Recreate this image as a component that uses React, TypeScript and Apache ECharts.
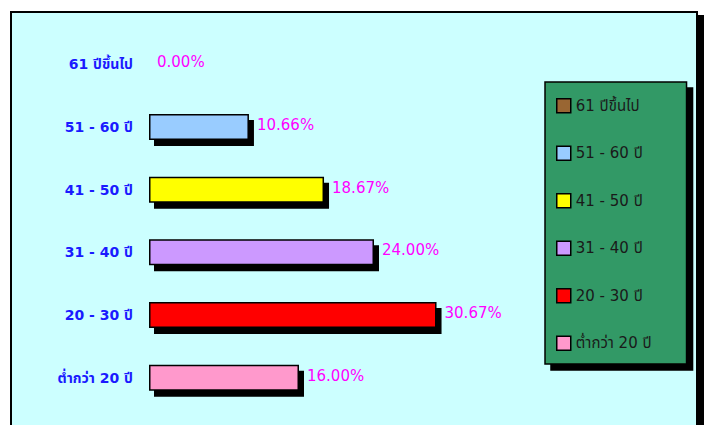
import React, { useEffect, useRef } from "react";
import * as echarts from "echarts";

const categories = ["ต่ำกว่า 20 ปี", "20 - 30 ปี", "31 - 40 ปี", "41 - 50 ปี", "51 - 60 ปี", "61 ปีขึ้นไป"];
const values = [16.0, 30.67, 24.0, 18.67, 10.66, 0.0];
const colors = ["#FF99CC", "#FF0000", "#CC99FF", "#FFFF00", "#99CCFF", "#996633"];
const legendOrder = ["61 ปีขึ้นไป", "51 - 60 ปี", "41 - 50 ปี", "31 - 40 ปี", "20 - 30 ปี", "ต่ำกว่า 20 ปี"];

const FONT = '"DejaVu Sans", "Noto Sans Thai", sans-serif';

export default function App() {
  const ref = useRef<HTMLDivElement>(null);
  useEffect(() => {
    document.body.style.margin = "0";
    if (!ref.current) return;
    const chart = echarts.init(ref.current, undefined, { renderer: "svg" });
    const series = categories.map((name, i) => ({
      name,
      type: "bar",
      stack: "all",
      barWidth: 26,
      data: categories.map((_, j) => (j === i ? values[i] : "-")),
      itemStyle: {
        color: colors[i],
        borderColor: "#000",
        borderWidth: values[i] === 0 ? 0 : 1.5,
        shadowColor: values[i] === 0 ? "transparent" : "#000",
        shadowBlur: 0,
        shadowOffsetX: 5,
        shadowOffsetY: 6,
      },
      label: {
        show: true,
        position: "right",
        distance: 8,
        offset: [0, -2],
        color: "#FF00FF",
        fontSize: 15,
        fontFamily: FONT,
        formatter: (p: any) => Number(p.value).toFixed(2) + "%",
      },
      z: 3,
    }));
    chart.setOption({
      animation: false,
      backgroundColor: "#fff",
      graphic: [
        {
          type: "rect",
          z: -10,
          shape: { x: 11, y: 12, width: 686, height: 430 },
          style: {
            fill: "#CCFFFF",
            stroke: "#000",
            lineWidth: 2,
            shadowColor: "#000",
            shadowBlur: 0,
            shadowOffsetX: 6,
            shadowOffsetY: 4,
          },
        },
      ],
      grid: { left: 149, top: 33, width: 375, height: 376 },
      xAxis: { type: "value", min: 0, max: 40, show: false },
      yAxis: {
        type: "category",
        data: categories,
        axisLine: { show: false },
        axisTick: { show: false },
        axisLabel: {
          margin: 16,
          color: "#1A1AFF",
          fontSize: 14,
          fontWeight: "bold",
          fontFamily: FONT,
          padding: [0, 0, 4, 0],
        },
      },
      legend: {
        orient: "vertical",
        left: 545,
        top: 82,
        data: legendOrder,
        icon: "rect",
        itemWidth: 14,
        itemHeight: 14,
        itemGap: 32,
        padding: [16, 35, 13, 11],
        backgroundColor: "#339966",
        borderColor: "#000",
        borderWidth: 1.5,
        shadowColor: "#000",
        shadowBlur: 0,
        shadowOffsetX: 6,
        shadowOffsetY: 6,
        itemStyle: {
          borderColor: "#000",
          borderWidth: 1.5,
          shadowColor: "transparent",
          shadowOffsetX: 0,
          shadowOffsetY: 0,
        },
        textStyle: { color: "#1a1a1a", fontSize: 15, fontFamily: FONT },
        selectedMode: false,
      },
      series,
    });
    return () => chart.dispose();
  }, []);
  return <div ref={ref} style={{ width: 711, height: 425 }} />;
}
